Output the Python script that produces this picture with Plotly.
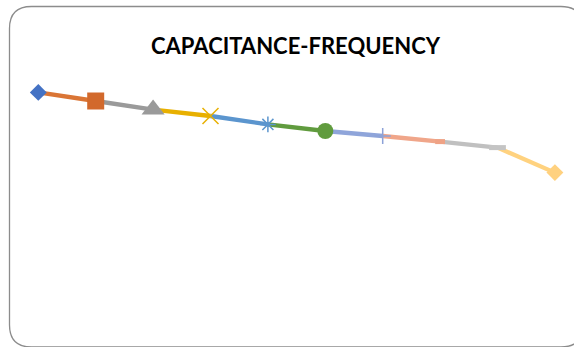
import plotly.graph_objects as go

# ---- data ----
frequency = ["100Hz", "200Hz", "500Hz", "1kHz", "2kHz", "5kHz", "10kHz", "20kHz", "50kHz", "100kHz"]
capacitance = [15.38, 14.95, 14.52, 14.20, 13.78, 13.45, 13.20, 12.92, 12.62, 11.37]

point_colors = ["#4472C4", "#D2692C", "#9A9A9A", "#E8B000", "#5B95CE",
                "#609B3E", "#8DA2D8", "#EFA285", "#C4C4C4", "#FFD17F"]
segment_colors = ["#DA7535", "#9A9A9A", "#E8B000", "#5B95CE", "#609B3E",
                  "#8FA5DA", "#F0A68A", "#C0C0C0", "#FFD27F"]
symbols = ["diamond", "square", "triangle-up", "x-thin-open", "asterisk-open",
           "circle", "cross-thin-open", "line-ew-open", "line-ew-open", "diamond"]
sizes = [13, 17, 20, 16, 13, 16, 11.5, 7, 12, 13]
marker_line_widths = [0, 0, 0, 1.5, 1.5, 0, 1.5, 5, 5, 0]

W, H = 574, 347
xi = list(range(len(frequency)))

fig = go.Figure()

# line segments, each coloured like the point it ends at
for i in range(1, len(xi)):
    fig.add_trace(go.Scatter(
        x=[xi[i - 1], xi[i]], y=[capacitance[i - 1], capacitance[i]],
        mode="lines", line=dict(color=segment_colors[i - 1], width=4.3),
        showlegend=False, hoverinfo="skip"))

# markers
for i in range(len(xi)):
    c = point_colors[i]
    fig.add_trace(go.Scatter(
        x=[xi[i]], y=[capacitance[i]], mode="markers",
        marker=dict(symbol=symbols[i], size=sizes[i], color=c,
                    line=dict(color=c, width=marker_line_widths[i])),
        showlegend=False, text=[frequency[i]],
        hovertemplate="%{text}: %{y}<extra></extra>"))

# rounded chart border (pixel coords -> paper fractions)
def px(x):
    return x / W

def py(y):
    return 1 - y / H

L, T, R, B, r = 9.5, 6.5, 583, 347, 22
path = (f"M {px(L)},{py(T + r)} Q {px(L)},{py(T)} {px(L + r)},{py(T)} "
        f"L {px(R - r)},{py(T)} Q {px(R)},{py(T)} {px(R)},{py(T + r)} "
        f"L {px(R)},{py(B - r)} Q {px(R)},{py(B)} {px(R - r)},{py(B)} "
        f"L {px(L + r)},{py(B)} Q {px(L)},{py(B)} {px(L)},{py(B - r)} Z")
fig.add_shape(type="path", path=path, xref="paper", yref="paper",
              line=dict(color="#8C8C8C", width=1.3), layer="below")

fig.add_annotation(text="<b>CAPACITANCE-FREQUENCY</b>", xref="paper", yref="paper",
                   x=px(295.5), y=py(45), xanchor="center", yanchor="middle",
                   showarrow=False, font=dict(family="Lato", size=22, color="#000000"))

fig.update_layout(
    width=W, height=H, autosize=False,
    margin=dict(l=0, r=0, t=0, b=0),
    paper_bgcolor="white", plot_bgcolor="white",
    xaxis=dict(visible=False, range=[-38.3 / 57.4, (W - 38.3) / 57.4]),
    yaxis=dict(visible=False, range=[20 - H * 0.05, 20]),
)

fig.write_html("out.html", config={"displayModeBar": False},
               post_script="document.body.style.margin='0';document.body.style.overflow='hidden';")
